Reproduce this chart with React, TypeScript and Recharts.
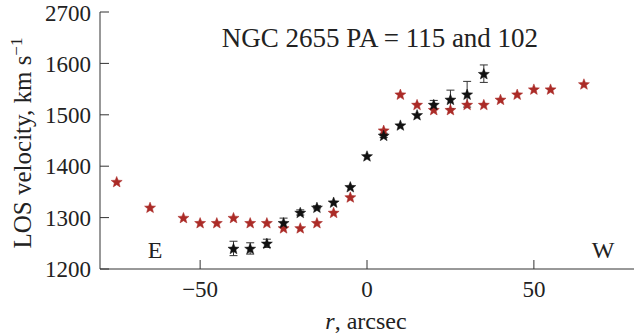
import React from 'react';
import { ScatterChart, Scatter, XAxis, YAxis, ErrorBar } from 'recharts';

// Red stars (PA = 102)
const redR = [-75, -65, -55, -50, -45, -40, -35, -30, -25, -20, -15, -10, -5, 5, 10, 15, 20, 25, 30, 35, 40, 45, 50, 55, 65];
const redV = [1370, 1320, 1300, 1290, 1290, 1300, 1290, 1290, 1280, 1280, 1290, 1310, 1340, 1470, 1540, 1520, 1510, 1510, 1520, 1520, 1530, 1540, 1550, 1550, 1560];

// Black stars (PA = 115) with errors
const blackR = [-40, -35, -30, -25, -20, -15, -10, -5, 0, 5, 10, 15, 20, 25, 30, 35];
const blackV = [1240, 1240, 1250, 1290, 1310, 1320, 1330, 1360, 1420, 1460, 1480, 1500, 1520, 1530, 1540, 1580];
const blackErr = [14, 11, 8, 9, 5, 3, 0, 0, 0, 4, 0, 0, 8, 18, 25, 17];

const xTicks = [-50, 0, 50];
const yTicks = [1200, 1300, 1400, 1500, 1600, 1700];
const yTickLabels = ['1200', '1300', '1400', '1500', '1600', '2700'];

const redData = redR.map((r, i) => ({ r, v: redV[i] }));
const blackData = blackR.map((r, i) => ({ r, v: blackV[i], err: blackErr[i] }));

const FONT = '"Liberation Serif", "Times New Roman", serif';

const starPath = (cx: number, cy: number, R: number, ri: number) => {
  let d = '';
  for (let i = 0; i < 10; i++) {
    const a = (-90 + i * 36) * Math.PI / 180;
    const rad = i % 2 === 0 ? R : ri;
    d += (i === 0 ? 'M' : 'L') + (cx + rad * Math.cos(a)).toFixed(2) + ',' + (cy + rad * Math.sin(a)).toFixed(2);
  }
  return d + 'Z';
};

const makeStar = (color: string) => (props: any) => {
  const { cx, cy } = props;
  if (cx == null || cy == null) return <g />;
  return <path d={starPath(cx, cy + 0.6, 5.8, 2.5)} fill={color} stroke={color} strokeWidth={0.5} />;
};

const RedStar = makeStar('#ab2b27');
const BlackStar = makeStar('#111111');

const fmtX = (v: number) => (v < 0 ? '\u2212' + Math.abs(v) : String(v));
const fmtY = (v: number) => {
  const i = yTicks.indexOf(v);
  return i >= 0 ? yTickLabels[i] : String(v);
};

export default function App() {
  return (
    <div style={{ position: 'absolute', left: 0, top: 0, width: 635, height: 336, background: '#fff' }}>
      <ScatterChart width={635} height={336} margin={{ top: 12, right: 1, bottom: 0, left: 0 }}>
        <XAxis
          type="number"
          dataKey="r"
          domain={[-80, 80]}
          ticks={xTicks}
          tickFormatter={fmtX}
          height={67}
          tickSize={-9}
          tickMargin={21}
          stroke="#333"
          tick={{ fontFamily: FONT, fontSize: 23, fill: '#222' }}
          allowDataOverflow
        />
        <YAxis
          type="number"
          dataKey="v"
          domain={[1200, 1700]}
          ticks={yTicks}
          tickFormatter={fmtY}
          width={100}
          tickSize={-9}
          tickMargin={18}
          stroke="#333"
          tick={{ fontFamily: FONT, fontSize: 23, fill: '#222' }}
          allowDataOverflow
        />
        <Scatter data={redData} shape={RedStar} isAnimationActive={false} />
        <Scatter data={blackData} shape={BlackStar} isAnimationActive={false}>
          <ErrorBar dataKey="err" direction="y" width={4} stroke="#333" strokeWidth={1} />
        </Scatter>
      </ScatterChart>
      <svg width={635} height={336} style={{ position: 'absolute', left: 0, top: 0, pointerEvents: 'none' }}>
        <text x={380} y={47} textAnchor="middle" fontFamily={FONT} fontSize={27} fill="#222">
          NGC 2655 PA = 115 and 102
        </text>
        <text x={155} y={258} textAnchor="middle" fontFamily={FONT} fontSize={24} fill="#222">E</text>
        <text x={603} y={258} textAnchor="middle" fontFamily={FONT} fontSize={24} fill="#222">W</text>
        <text x={366} y={329} textAnchor="middle" fontFamily={FONT} fontSize={24} fill="#222">
          <tspan fontStyle="italic">r</tspan>, arcsec
        </text>
        <text transform="translate(31,143) rotate(-90)" textAnchor="middle" fontFamily={FONT} fontSize={25} fill="#222">
          LOS velocity, km s<tspan dy={-9} fontSize={17}>{'\u22121'}</tspan>
        </text>
      </svg>
    </div>
  );
}
